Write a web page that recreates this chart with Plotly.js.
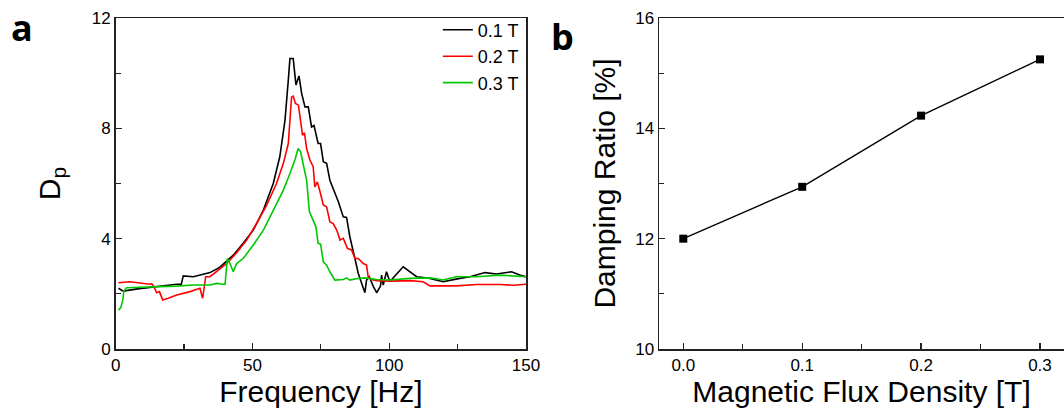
<!DOCTYPE html>
<html>
<head>
<meta charset="utf-8">
<script src="https://cdn.plot.ly/plotly-3.0.1.min.js"></script>
<style>html,body{margin:0;padding:0;background:#fff;}#chart{width:1064px;height:414px;}</style>
</head>
<body>
<div id="chart"></div>
<script>
// ---- Panel a: Dp vs frequency ----
const freq01 = [1,2.8,8,13.8,20,22.3,24,24.7,28.4,34.5,38,43,46.6,50.3,54,57.6,60,61.9,63.1,63.7,64.9,65.9,67,68,69.2,70.4,71.6,72.5,74,74.9,75.9,77.1,78.3,81.4,83.2,84.4,85.6,87.5,88.7,89.9,91.1,91.7,92.7,94.2,95.4,96.8,97.2,97.8,99,100,100.9,105.1,110,114.9,119.7,125.8,129.5,135,139.2,144.7,147.7,150];
const dp01   = [2.2,2.1,2.18,2.26,2.32,2.35,2.35,2.65,2.62,2.77,2.96,3.4,3.83,4.31,5.04,6.0,6.97,8.3,9.75,10.53,10.53,9.57,9.9,9.26,8.78,8.78,8.05,8.1,7.45,7.45,6.79,6.73,6.12,5.34,4.79,4.77,4.07,3.22,2.74,2.38,2.04,2.5,2.62,2.26,2.04,2.28,2.68,2.32,2.8,2.5,2.52,2.98,2.62,2.56,2.44,2.56,2.62,2.77,2.72,2.8,2.68,2.62];

const freq02 = [1,5.2,12.5,13.2,14,15,16,17.2,19.2,22.3,27.2,30.8,31.8,32.9,34.5,36.9,40.6,44.2,47.9,51.5,55.2,58.8,61.3,63.1,63.7,64.3,64.9,65.7,66.8,67.6,68.3,69,69.8,71,72.2,72.8,73.7,74.7,75.9,77.1,78.3,79.5,80.8,82,83.2,84.7,86.2,87.5,88.7,90.5,91.7,92.3,93.5,95.4,100.2,107.5,112.4,114.9,119.7,124.6,131.9,140.4,145.3,150];
const dp02   = [2.4,2.44,2.35,2.37,2.26,2.04,2.08,1.78,1.84,1.96,2.08,2.2,1.84,2.62,2.62,2.8,3.1,3.49,3.95,4.55,5.22,6.0,6.73,7.45,8.3,9.14,9.17,8.9,8.84,8.3,7.75,7.84,7.27,6.85,6.61,5.88,6.06,5.7,5.22,5.16,4.61,4.55,4.31,3.95,4.01,3.65,3.59,3.28,3.28,3.1,3.04,2.62,2.52,2.48,2.46,2.48,2.44,2.29,2.29,2.29,2.34,2.34,2.31,2.35];

const freq03 = [1,1.9,2.6,3,4,10.1,16.2,22.3,28.4,34.5,36.9,39.3,40,40.8,41.5,43,44.2,46.6,50.3,54,57.6,61.3,63.7,65.5,66.7,67.6,68.6,69.8,70.8,72.2,73.2,74,74.9,75.9,77.1,78.3,80.1,83.2,84.4,85.6,88,91.1,95.4,100.2,107.5,114.9,119.7,124.6,131.9,140.4,150];
const dp03   = [1.41,1.5,1.78,2.1,2.22,2.23,2.26,2.28,2.32,2.32,2.38,2.35,2.35,3.28,3.16,2.8,3.1,3.28,3.77,4.31,5.04,5.76,6.36,6.85,7.27,7.15,6.67,6.12,4.98,4.67,4.43,3.83,3.8,3.16,3.04,2.8,2.5,2.52,2.58,2.5,2.55,2.58,2.52,2.5,2.56,2.58,2.5,2.62,2.62,2.68,2.62];

const seriesNames = ["0.1 T","0.2 T","0.3 T"];

// ---- Panel b: damping ratio vs flux density ----
const fluxDensity  = [0.0, 0.1, 0.2, 0.3];
const dampingRatio = [12.0, 12.94, 14.23, 15.25];

const FONT = "Liberation Sans, Arial, sans-serif";

const traces = [
  {x: freq01, y: dp01, name: seriesNames[0], type: "scatter", mode: "lines", line: {color: "#000000", width: 1.6}, xaxis: "x", yaxis: "y"},
  {x: freq02, y: dp02, name: seriesNames[1], type: "scatter", mode: "lines", line: {color: "#ff0000", width: 1.6}, xaxis: "x", yaxis: "y"},
  {x: freq03, y: dp03, name: seriesNames[2], type: "scatter", mode: "lines", line: {color: "#00c800", width: 1.6}, xaxis: "x", yaxis: "y"},
  {x: fluxDensity, y: dampingRatio, type: "scatter", mode: "lines+markers", showlegend: false,
   line: {color: "#000000", width: 1.4}, marker: {symbol: "square", size: 8, color: "#000000"}, xaxis: "x2", yaxis: "y2"}
];

const axCommon = {
  showgrid: false, zeroline: false, showline: true, linecolor: "#222", linewidth: 1.5,
  ticks: "inside", ticklen: 6, tickwidth: 1.2, tickcolor: "#222",
  tickfont: {family: FONT, size: 17, color: "#000"},
  automargin: false
};

const layout = {
  width: 1064, height: 414,
  margin: {l: 0, r: 0, t: 0, b: 0},
  paper_bgcolor: "#fff", plot_bgcolor: "#fff",
  font: {family: FONT, color: "#000"},
  showlegend: true,
  legend: {x: 0.4115, xanchor: "left", y: 0.972, yanchor: "top", bgcolor: "rgba(0,0,0,0)",
           font: {family: FONT, size: 18, color: "#000"}, tracegroupgap: 0},
  xaxis: Object.assign({}, axCommon, {
    domain: [0.1087, 0.4944], range: [0, 150], tickvals: [0, 50, 100, 150], mirror: true,
    minor: {tickvals: [25, 75, 125], ticks: "inside", ticklen: 5, tickcolor: "#222"},
    title: {text: "Frequency [Hz]", font: {family: FONT, size: 30, color: "#000"}, standoff: 6}
  }),
  yaxis: Object.assign({}, axCommon, {
    domain: [0.157, 0.9565], range: [0, 12], tickvals: [0, 4, 8, 12], mirror: true,
    minor: {tickvals: [2, 6, 10], ticks: "inside", ticklen: 5, tickcolor: "#222"},
    title: {text: "D<sub>p</sub>", font: {family: FONT, size: 30, color: "#000"}, standoff: 22}
  }),
  xaxis2: Object.assign({}, axCommon, {
    domain: [0.6194, 1.0], range: [-0.0204, 0.3202], tickvals: [0, 0.1, 0.2, 0.3],
    ticktext: ["0.0", "0.1", "0.2", "0.3"], mirror: true, anchor: "y2",
    minor: {tickvals: [0.05, 0.15, 0.25], ticks: "inside", ticklen: 5, tickcolor: "#222"},
    title: {text: "Magnetic Flux Density [T]", font: {family: FONT, size: 30, color: "#000"}, standoff: 6}
  }),
  yaxis2: Object.assign({}, axCommon, {
    domain: [0.157, 0.9565], range: [10, 16], tickvals: [10, 12, 14, 16], mirror: false, anchor: "x2",
    minor: {tickvals: [11, 13, 15], ticks: "inside", ticklen: 5, tickcolor: "#222"},
    title: {text: "Damping Ratio [%]", font: {family: FONT, size: 30, color: "#000"}, standoff: 10}
  }),
  annotations: [
    {text: "<b>a</b>", xref: "paper", yref: "paper", x: 9/1064, y: 1 - 1/414, xanchor: "left", yanchor: "top",
     showarrow: false, font: {family: "Open Sans, sans-serif", size: 36, color: "#000"}},
    {text: "<b>b</b>", xref: "paper", yref: "paper", x: 549/1064, y: 1 - 10/414, xanchor: "left", yanchor: "top",
     showarrow: false, font: {family: "Open Sans, sans-serif", size: 36, color: "#000"}}
  ]
};

Plotly.newPlot("chart", traces, layout, {staticPlot: true, displayModeBar: false});
</script>
</body>
</html>
